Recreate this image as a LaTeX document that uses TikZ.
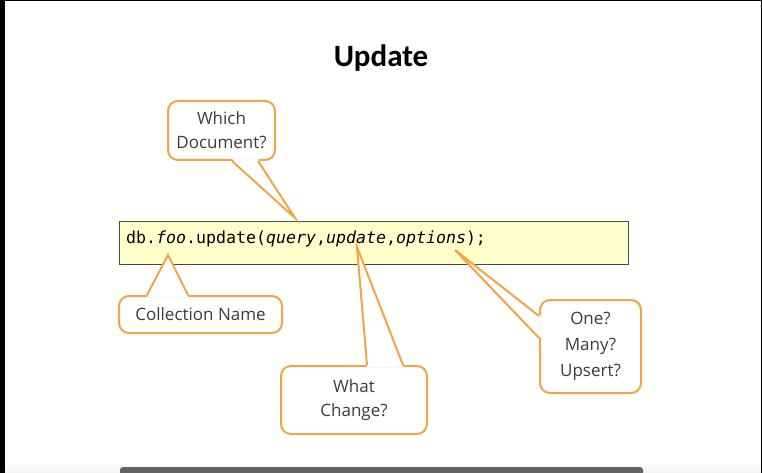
\documentclass[tikz,border=0pt]{standalone}
\usepackage{fontspec}
\setmainfont{Open Sans}
\newfontfamily\titlefont{Carlito}
\newfontfamily\codefont{DejaVu Sans Mono}
\usepackage{xcolor}
\definecolor{calloutorange}{HTML}{F4A444}
\definecolor{calloutgray}{HTML}{3C3C3C}
\definecolor{codeyellow}{HTML}{FFFFCC}
\definecolor{codeborder}{HTML}{4A4A4A}
\definecolor{barcol}{HTML}{646464}

\begin{document}
\begin{tikzpicture}[x=1pt,y=-1pt,
  callout/.style={draw=calloutorange,line width=2pt,fill=white,rounded corners=10pt,
    align=center,inner sep=0pt,text=calloutgray,
    font=\fontsize{17}{24}\selectfont},
  pointer/.style={draw=calloutorange,line width=2pt,line join=miter},
  codebox/.style={draw=codeborder,line width=0.9pt,fill=codeyellow,inner sep=0pt,
    minimum width=509pt,minimum height=43pt}]
\useasboundingbox (0,0) rectangle (762,473);
\fill[white] (0,0) rectangle (762,473);
\shade[top color=white,bottom color=gray!10] (5,462) rectangle (761,473);
\fill[black] (0,0) rectangle (5,473);
\fill[black] (0,0) rectangle (762,1);
\fill[black] (760.5,0) rectangle (762,473);
\fill[barcol,rounded corners=3pt] (120,467) rectangle (643,480);
% title
\node[anchor=base,font=\titlefont\bfseries\fontsize{31}{33}\selectfont] (title) at (381,67) {Update};
% code line
\node[codebox] (code) at (373.5,242.5) {};
\node[anchor=base west,inner sep=0pt,font=\codefont\fontsize{16.6}{18}\selectfont] (codeline) at (126,243)
  {db.\textit{foo}.update(\textit{query},\textit{update},\textit{options});};
\coordinate (querytip) at (295,218);
\coordinate (footip) at (168,255);
\coordinate (updatetip) at (357,247);
\coordinate (optionstip) at (455,250);
% Which Document?
\node[callout,minimum width=107pt,minimum height=59pt] (which) at (221.5,130.5) {Which\\Document?};
\fill[white] ([xshift=10.5pt,yshift=2pt]which.south) -- (querytip) -- ([xshift=36.5pt,yshift=2pt]which.south) -- cycle;
\draw[pointer] ([xshift=10.5pt]which.south) -- (querytip) -- ([xshift=36.5pt]which.south);
% Collection Name
\node[callout,minimum width=163pt,minimum height=37pt] (collection) at (200.5,314.5) {Collection Name};
\fill[white] ([xshift=-53.5pt,yshift=-2pt]collection.north) -- (footip) -- ([xshift=-12.5pt,yshift=-2pt]collection.north) -- cycle;
\draw[pointer] ([xshift=-53.5pt]collection.north) -- (footip) -- ([xshift=-12.5pt]collection.north);
% What Change?
\node[callout,minimum width=146pt,minimum height=68pt] (what) at (354,400) {What\\Change?};
\fill[white] ([xshift=13pt,yshift=-2pt]what.north) -- (updatetip) -- ([xshift=49pt,yshift=-2pt]what.north) -- cycle;
\draw[pointer] ([xshift=13pt]what.north) -- (updatetip) -- ([xshift=49pt]what.north);
% One? Many? Upsert?
\node[callout,minimum width=101pt,minimum height=93pt,font=\fontsize{17}{26}\selectfont] (one) at (590.5,346.5) {One?\\Many?\\Upsert?};
\fill[white] ([xshift=2pt,yshift=30.5pt]one.west) -- (optionstip) -- ([xshift=2pt,yshift=8.5pt]one.west) -- cycle;
\draw[pointer] ([yshift=30.5pt]one.west) -- (optionstip) -- ([yshift=8.5pt]one.west);
\end{tikzpicture}
\end{document}
